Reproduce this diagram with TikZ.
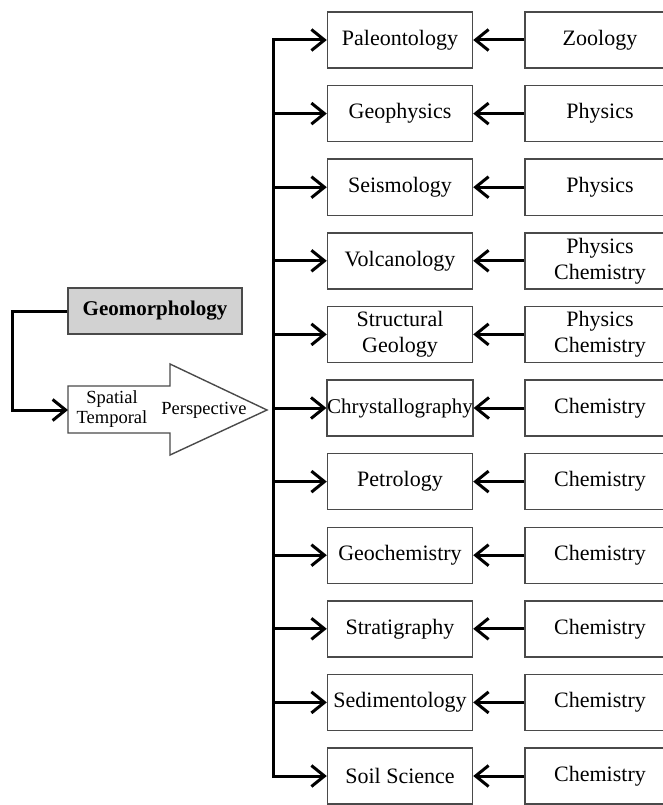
\documentclass[tikz,border=0pt]{standalone}
\usepackage{fontspec}
\setmainfont{Liberation Serif}
\usetikzlibrary{arrows.meta}
\definecolor{boxgray}{HTML}{4A4A4A}
\definecolor{geogray}{HTML}{D2D2D2}
\begin{document}
\begin{tikzpicture}[x=1pt,y=-1pt,
  box/.style={draw=boxgray, line width=1.4pt, minimum height=56pt, inner sep=0pt,
              align=center, font=\fontsize{22}{26}\selectfont},
  field/.style={box, minimum width=145pt},
  source/.style={box, minimum width=150pt},
  link/.style={line width=3pt, -{Straight Barb[length=13pt,width=21pt]}},
  bus/.style={line width=3pt, line cap=rect},
  small/.style={inner sep=0pt, align=center, font=\fontsize{18.5}{20}\selectfont}]
\useasboundingbox (0,0) rectangle (663,805);
\clip (0,0) rectangle (663,805);

% the central source box and the arrow that carries the perspectives
\node[draw=boxgray, fill=geogray, line width=1.4pt, minimum width=174pt,
      minimum height=46pt, inner sep=0pt,
      font=\bfseries\fontsize{21}{24}\selectfont] (geo) at (155,311) {Geomorphology};
\draw[draw=boxgray, line width=1.4pt, fill=white]
  (68,386) -- (170,386) -- (170,364) -- (267,410) -- (170,455) -- (170,433)
  -- (68,433) -- cycle;
\coordinate (pin) at (68,410);
\node[small] (st) at (112,409) {Spatial\\Temporal};
\node[small] (persp) at (204,410) {Perspective};
\draw[link] (geo.west) -- ++(-55,0) |- (pin);

% branches: sub-discipline and the science it draws on
\foreach \f/\s [count=\i from 0] in {
    Paleontology/Zoology,
    Geophysics/Physics,
    Seismology/Physics,
    Volcanology/Physics\\Chemistry,
    Structural\\Geology/Physics\\Chemistry,
    {\fontsize{21}{26}\selectfont Chrystallography}/Chemistry,
    Petrology/Chemistry,
    Geochemistry/Chemistry,
    Stratigraphy/Chemistry,
    Sedimentology/Chemistry,
    Soil Science/Chemistry} {
  \pgfmathsetmacro{\yy}{40+73.6*\i}
  \node[field] (f\i) at (400,\yy) {\f};
  \node[source] (s\i) at (600,\yy) {\s};
  \coordinate (b\i) at (273,\yy);
  \draw[link] (b\i) -- (f\i.west);
  \draw[link] (s\i.west) -- (f\i.east);
}
\draw[bus] (b0) -- (b10);
\end{tikzpicture}
\end{document}
